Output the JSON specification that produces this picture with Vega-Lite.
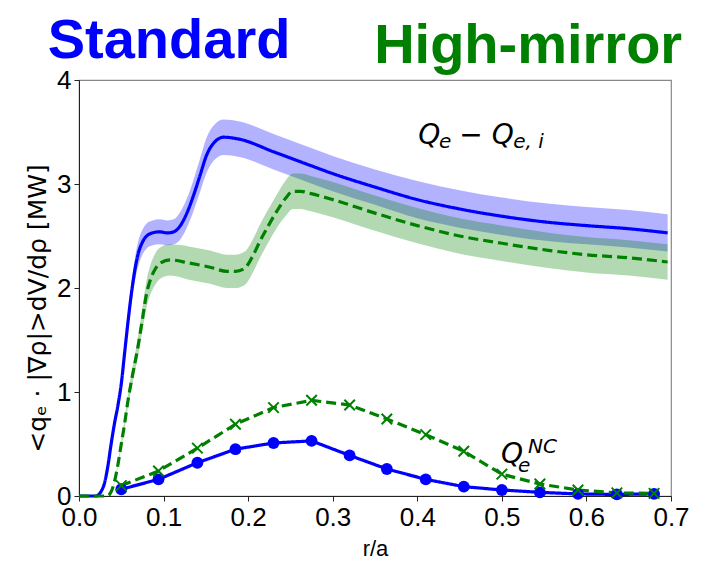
{
  "$schema": "https://vega.github.io/schema/vega-lite/v6.json",
  "width": 592,
  "height": 416,
  "autosize": {"type": "none"},
  "padding": {"left": 79, "top": 80, "right": 36, "bottom": 67},
  "background": "white",
  "config": {
    "view": {"stroke": "#888888", "strokeWidth": 1.2},
    "axis": {
      "grid": false,
      "labelFont": "Liberation Sans",
      "titleFont": "Liberation Sans",
      "labelColor": "#000000",
      "titleColor": "#000000",
      "domainColor": "#222222",
      "tickColor": "#222222",
      "tickSize": 5,
      "labelFontSize": 26,
      "labelFlush": false,
      "titleFontWeight": "normal"
    }
  },
  "datasets": {
    "qe": [
      {"series": "Standard", "r": 0, "q": 0, "lo": 0, "hi": 0},
      {"series": "Standard", "r": 0.02, "q": 0, "lo": 0, "hi": 0},
      {"series": "Standard", "r": 0.025, "q": 0.03, "lo": 0.028, "hi": 0.032},
      {"series": "Standard", "r": 0.03, "q": 0.12, "lo": 0.114, "hi": 0.126},
      {"series": "Standard", "r": 0.034, "q": 0.28, "lo": 0.266, "hi": 0.294},
      {"series": "Standard", "r": 0.038, "q": 0.5, "lo": 0.475, "hi": 0.525},
      {"series": "Standard", "r": 0.042, "q": 0.7, "lo": 0.665, "hi": 0.735},
      {"series": "Standard", "r": 0.046, "q": 0.87, "lo": 0.825, "hi": 0.915},
      {"series": "Standard", "r": 0.05, "q": 1.08, "lo": 1.025, "hi": 1.135},
      {"series": "Standard", "r": 0.054, "q": 1.38, "lo": 1.31, "hi": 1.45},
      {"series": "Standard", "r": 0.058, "q": 1.68, "lo": 1.595, "hi": 1.765},
      {"series": "Standard", "r": 0.062, "q": 1.95, "lo": 1.85, "hi": 2.05},
      {"series": "Standard", "r": 0.066, "q": 2.17, "lo": 2.06, "hi": 2.28},
      {"series": "Standard", "r": 0.07, "q": 2.33, "lo": 2.21, "hi": 2.45},
      {"series": "Standard", "r": 0.075, "q": 2.44, "lo": 2.32, "hi": 2.56},
      {"series": "Standard", "r": 0.08, "q": 2.5, "lo": 2.38, "hi": 2.62},
      {"series": "Standard", "r": 0.087, "q": 2.53, "lo": 2.41, "hi": 2.65},
      {"series": "Standard", "r": 0.095, "q": 2.54, "lo": 2.42, "hi": 2.66},
      {"series": "Standard", "r": 0.105, "q": 2.53, "lo": 2.41, "hi": 2.65},
      {"series": "Standard", "r": 0.112, "q": 2.54, "lo": 2.42, "hi": 2.66},
      {"series": "Standard", "r": 0.119, "q": 2.59, "lo": 2.46, "hi": 2.72},
      {"series": "Standard", "r": 0.127, "q": 2.71, "lo": 2.57, "hi": 2.85},
      {"series": "Standard", "r": 0.135, "q": 2.88, "lo": 2.73, "hi": 3.03},
      {"series": "Standard", "r": 0.143, "q": 3.08, "lo": 2.92, "hi": 3.24},
      {"series": "Standard", "r": 0.151, "q": 3.28, "lo": 3.11, "hi": 3.45},
      {"series": "Standard", "r": 0.16, "q": 3.4, "lo": 3.23, "hi": 3.57},
      {"series": "Standard", "r": 0.171, "q": 3.45, "lo": 3.28, "hi": 3.62},
      {"series": "Standard", "r": 0.19, "q": 3.43, "lo": 3.26, "hi": 3.6},
      {"series": "Standard", "r": 0.23, "q": 3.31, "lo": 3.14, "hi": 3.48},
      {"series": "Standard", "r": 0.273, "q": 3.18, "lo": 3.01, "hi": 3.35},
      {"series": "Standard", "r": 0.3, "q": 3.1, "lo": 2.93, "hi": 3.27},
      {"series": "Standard", "r": 0.35, "q": 2.97, "lo": 2.8, "hi": 3.14},
      {"series": "Standard", "r": 0.4, "q": 2.85, "lo": 2.67, "hi": 3.03},
      {"series": "Standard", "r": 0.45, "q": 2.76, "lo": 2.58, "hi": 2.94},
      {"series": "Standard", "r": 0.5, "q": 2.69, "lo": 2.51, "hi": 2.87},
      {"series": "Standard", "r": 0.557, "q": 2.63, "lo": 2.45, "hi": 2.81},
      {"series": "Standard", "r": 0.6, "q": 2.6, "lo": 2.42, "hi": 2.78},
      {"series": "Standard", "r": 0.65, "q": 2.57, "lo": 2.39, "hi": 2.75},
      {"series": "Standard", "r": 0.696, "q": 2.53, "lo": 2.35, "hi": 2.71},
      {"series": "High-mirror", "r": 0, "q": 0, "lo": 0, "hi": 0},
      {"series": "High-mirror", "r": 0.033, "q": 0, "lo": 0, "hi": 0},
      {"series": "High-mirror", "r": 0.038, "q": 0.04, "lo": 0.037, "hi": 0.043},
      {"series": "High-mirror", "r": 0.042, "q": 0.14, "lo": 0.131, "hi": 0.149},
      {"series": "High-mirror", "r": 0.046, "q": 0.3, "lo": 0.28, "hi": 0.32},
      {"series": "High-mirror", "r": 0.05, "q": 0.5, "lo": 0.467, "hi": 0.533},
      {"series": "High-mirror", "r": 0.054, "q": 0.7, "lo": 0.655, "hi": 0.745},
      {"series": "High-mirror", "r": 0.058, "q": 0.92, "lo": 0.86, "hi": 0.98},
      {"series": "High-mirror", "r": 0.063, "q": 1.15, "lo": 1.075, "hi": 1.225},
      {"series": "High-mirror", "r": 0.069, "q": 1.4, "lo": 1.31, "hi": 1.49},
      {"series": "High-mirror", "r": 0.075, "q": 1.7, "lo": 1.59, "hi": 1.81},
      {"series": "High-mirror", "r": 0.08, "q": 1.95, "lo": 1.82, "hi": 2.08},
      {"series": "High-mirror", "r": 0.084, "q": 2.07, "lo": 1.93, "hi": 2.21},
      {"series": "High-mirror", "r": 0.09, "q": 2.18, "lo": 2.03, "hi": 2.33},
      {"series": "High-mirror", "r": 0.096, "q": 2.24, "lo": 2.09, "hi": 2.39},
      {"series": "High-mirror", "r": 0.108, "q": 2.27, "lo": 2.12, "hi": 2.42},
      {"series": "High-mirror", "r": 0.13, "q": 2.24, "lo": 2.08, "hi": 2.4},
      {"series": "High-mirror", "r": 0.155, "q": 2.2, "lo": 2.04, "hi": 2.36},
      {"series": "High-mirror", "r": 0.175, "q": 2.16, "lo": 2.0, "hi": 2.32},
      {"series": "High-mirror", "r": 0.185, "q": 2.16, "lo": 2.0, "hi": 2.32},
      {"series": "High-mirror", "r": 0.196, "q": 2.19, "lo": 2.03, "hi": 2.35},
      {"series": "High-mirror", "r": 0.205, "q": 2.3, "lo": 2.14, "hi": 2.46},
      {"series": "High-mirror", "r": 0.214, "q": 2.45, "lo": 2.29, "hi": 2.61},
      {"series": "High-mirror", "r": 0.224, "q": 2.6, "lo": 2.44, "hi": 2.76},
      {"series": "High-mirror", "r": 0.234, "q": 2.74, "lo": 2.58, "hi": 2.9},
      {"series": "High-mirror", "r": 0.244, "q": 2.86, "lo": 2.69, "hi": 3.03},
      {"series": "High-mirror", "r": 0.253, "q": 2.93, "lo": 2.76, "hi": 3.1},
      {"series": "High-mirror", "r": 0.262, "q": 2.93, "lo": 2.76, "hi": 3.1},
      {"series": "High-mirror", "r": 0.273, "q": 2.91, "lo": 2.74, "hi": 3.08},
      {"series": "High-mirror", "r": 0.3, "q": 2.85, "lo": 2.68, "hi": 3.02},
      {"series": "High-mirror", "r": 0.35, "q": 2.72, "lo": 2.55, "hi": 2.89},
      {"series": "High-mirror", "r": 0.4, "q": 2.6, "lo": 2.43, "hi": 2.77},
      {"series": "High-mirror", "r": 0.45, "q": 2.5, "lo": 2.33, "hi": 2.67},
      {"series": "High-mirror", "r": 0.5, "q": 2.43, "lo": 2.26, "hi": 2.6},
      {"series": "High-mirror", "r": 0.557, "q": 2.36, "lo": 2.19, "hi": 2.53},
      {"series": "High-mirror", "r": 0.6, "q": 2.32, "lo": 2.15, "hi": 2.49},
      {"series": "High-mirror", "r": 0.65, "q": 2.29, "lo": 2.12, "hi": 2.46},
      {"series": "High-mirror", "r": 0.696, "q": 2.25, "lo": 2.08, "hi": 2.42}
    ],
    "nc": [
      {"series": "Standard", "r": 0.05, "q": 0.065},
      {"series": "Standard", "r": 0.094, "q": 0.16},
      {"series": "Standard", "r": 0.14, "q": 0.32},
      {"series": "Standard", "r": 0.185, "q": 0.45},
      {"series": "Standard", "r": 0.23, "q": 0.51},
      {"series": "Standard", "r": 0.275, "q": 0.53},
      {"series": "Standard", "r": 0.32, "q": 0.39},
      {"series": "Standard", "r": 0.364, "q": 0.26},
      {"series": "Standard", "r": 0.41, "q": 0.16},
      {"series": "Standard", "r": 0.455, "q": 0.09},
      {"series": "Standard", "r": 0.5, "q": 0.058},
      {"series": "Standard", "r": 0.545, "q": 0.035},
      {"series": "Standard", "r": 0.59, "q": 0.02},
      {"series": "Standard", "r": 0.636, "q": 0.015},
      {"series": "Standard", "r": 0.68, "q": 0.02},
      {"series": "High-mirror", "r": 0.05, "q": 0.1},
      {"series": "High-mirror", "r": 0.094, "q": 0.24},
      {"series": "High-mirror", "r": 0.14, "q": 0.46},
      {"series": "High-mirror", "r": 0.185, "q": 0.69},
      {"series": "High-mirror", "r": 0.23, "q": 0.85},
      {"series": "High-mirror", "r": 0.275, "q": 0.92},
      {"series": "High-mirror", "r": 0.32, "q": 0.875},
      {"series": "High-mirror", "r": 0.364, "q": 0.74},
      {"series": "High-mirror", "r": 0.41, "q": 0.59},
      {"series": "High-mirror", "r": 0.455, "q": 0.43},
      {"series": "High-mirror", "r": 0.5, "q": 0.21},
      {"series": "High-mirror", "r": 0.545, "q": 0.115},
      {"series": "High-mirror", "r": 0.59, "q": 0.058},
      {"series": "High-mirror", "r": 0.636, "q": 0.03},
      {"series": "High-mirror", "r": 0.68, "q": 0.025}
    ],
    "titles": [
      {"series": "Standard", "label": "Standard", "r": -0.037, "q": 4.21},
      {"series": "High-mirror", "label": "High-mirror", "r": 0.349, "q": 4.16}
    ],
    "annBig": [
      {"label": "Q", "r": 0.401, "q": 3.385},
      {"label": "−", "r": 0.4495, "q": 3.385},
      {"label": "Q", "r": 0.488, "q": 3.385},
      {"label": "Q", "r": 0.499, "q": 0.317}
    ],
    "annSmall": [
      {"label": "e", "r": 0.4257, "q": 3.346},
      {"label": "e, i", "r": 0.5134, "q": 3.346},
      {"label": "e", "r": 0.519, "q": 0.23},
      {"label": "NC", "r": 0.531, "q": 0.413}
    ]
  },
  "encoding": {
    "x": {
      "field": "r",
      "type": "quantitative",
      "scale": {"domain": [0, 0.7], "nice": false, "zero": false},
      "axis": {
        "values": [0, 0.1, 0.2, 0.3, 0.4, 0.5, 0.6, 0.7],
        "format": ".1f",
        "labelPadding": 3,
        "title": "r/a",
        "titleFontSize": 22,
        "titlePadding": 8
      }
    },
    "y": {
      "field": "q",
      "type": "quantitative",
      "scale": {"domain": [0, 4], "nice": false, "zero": false},
      "axis": {
        "values": [0, 1, 2, 3, 4],
        "format": "d",
        "labelPadding": 3,
        "title": "<qₑ · |∇ρ|>dV/dρ [MW]",
        "titleFont": "DejaVu Sans",
        "titleFontSize": 25,
        "titlePadding": 6,
        "titleY": 228
      }
    }
  },
  "layer": [
    {
      "data": {"name": "qe"},
      "mark": {"type": "area", "opacity": 0.3, "interpolate": "monotone"},
      "encoding": {
        "y": {
          "field": "lo",
          "type": "quantitative",
          "scale": {"domain": [0, 4], "nice": false, "zero": false},
          "axis": {
            "values": [0, 1, 2, 3, 4],
            "format": "d",
            "labelPadding": 3,
            "title": "<qₑ · |∇ρ|>dV/dρ [MW]",
            "titleFont": "DejaVu Sans",
            "titleFontSize": 25,
            "titlePadding": 6,
            "titleY": 228
          }
        },
        "y2": {"field": "hi"},
        "color": {
          "field": "series",
          "type": "nominal",
          "scale": {"domain": ["Standard", "High-mirror"], "range": ["#0000ff", "#008000"]},
          "legend": null
        },
        "order": {"field": "series", "sort": "descending"}
      }
    },
    {
      "data": {"name": "qe"},
      "mark": {"type": "line", "strokeWidth": 3.2, "interpolate": "monotone"},
      "encoding": {
        "color": {"field": "series", "type": "nominal", "legend": null},
        "strokeDash": {
          "field": "series",
          "type": "nominal",
          "scale": {"domain": ["Standard", "High-mirror"], "range": [[1, 0], [10, 5]]},
          "legend": null
        }
      }
    },
    {
      "data": {"name": "nc"},
      "mark": {"type": "line", "strokeWidth": 3.2},
      "encoding": {
        "color": {"field": "series", "type": "nominal", "legend": null},
        "strokeDash": {"field": "series", "type": "nominal", "legend": null}
      }
    },
    {
      "data": {"name": "nc"},
      "transform": [{"filter": "datum.series === 'Standard'"}],
      "mark": {"type": "circle", "size": 140, "opacity": 1},
      "encoding": {
        "color": {"field": "series", "type": "nominal", "legend": null}
      }
    },
    {
      "data": {"name": "nc"},
      "transform": [{"filter": "datum.series === 'High-mirror'"}],
      "mark": {"type": "point", "shape": "M-1,-1L1,1M-1,1L1,-1", "size": 110, "filled": false, "strokeWidth": 2, "opacity": 1},
      "encoding": {
        "color": {"field": "series", "type": "nominal", "legend": null}
      }
    },
    {
      "data": {"name": "titles"},
      "mark": {"type": "text", "font": "Liberation Sans", "fontWeight": "bold", "fontSize": 56, "align": "left", "baseline": "alphabetic"},
      "encoding": {
        "text": {"field": "label"},
        "color": {"field": "series", "type": "nominal", "legend": null}
      }
    },
    {
      "data": {"name": "annBig"},
      "mark": {"type": "text", "font": "DejaVu Sans", "fontStyle": "italic", "fontSize": 28, "align": "left", "baseline": "alphabetic", "color": "#000000"},
      "encoding": {"text": {"field": "label"}}
    },
    {
      "data": {"name": "annSmall"},
      "mark": {"type": "text", "font": "DejaVu Sans", "fontStyle": "italic", "fontSize": 20, "align": "left", "baseline": "alphabetic", "color": "#000000"},
      "encoding": {"text": {"field": "label"}}
    }
  ]
}
